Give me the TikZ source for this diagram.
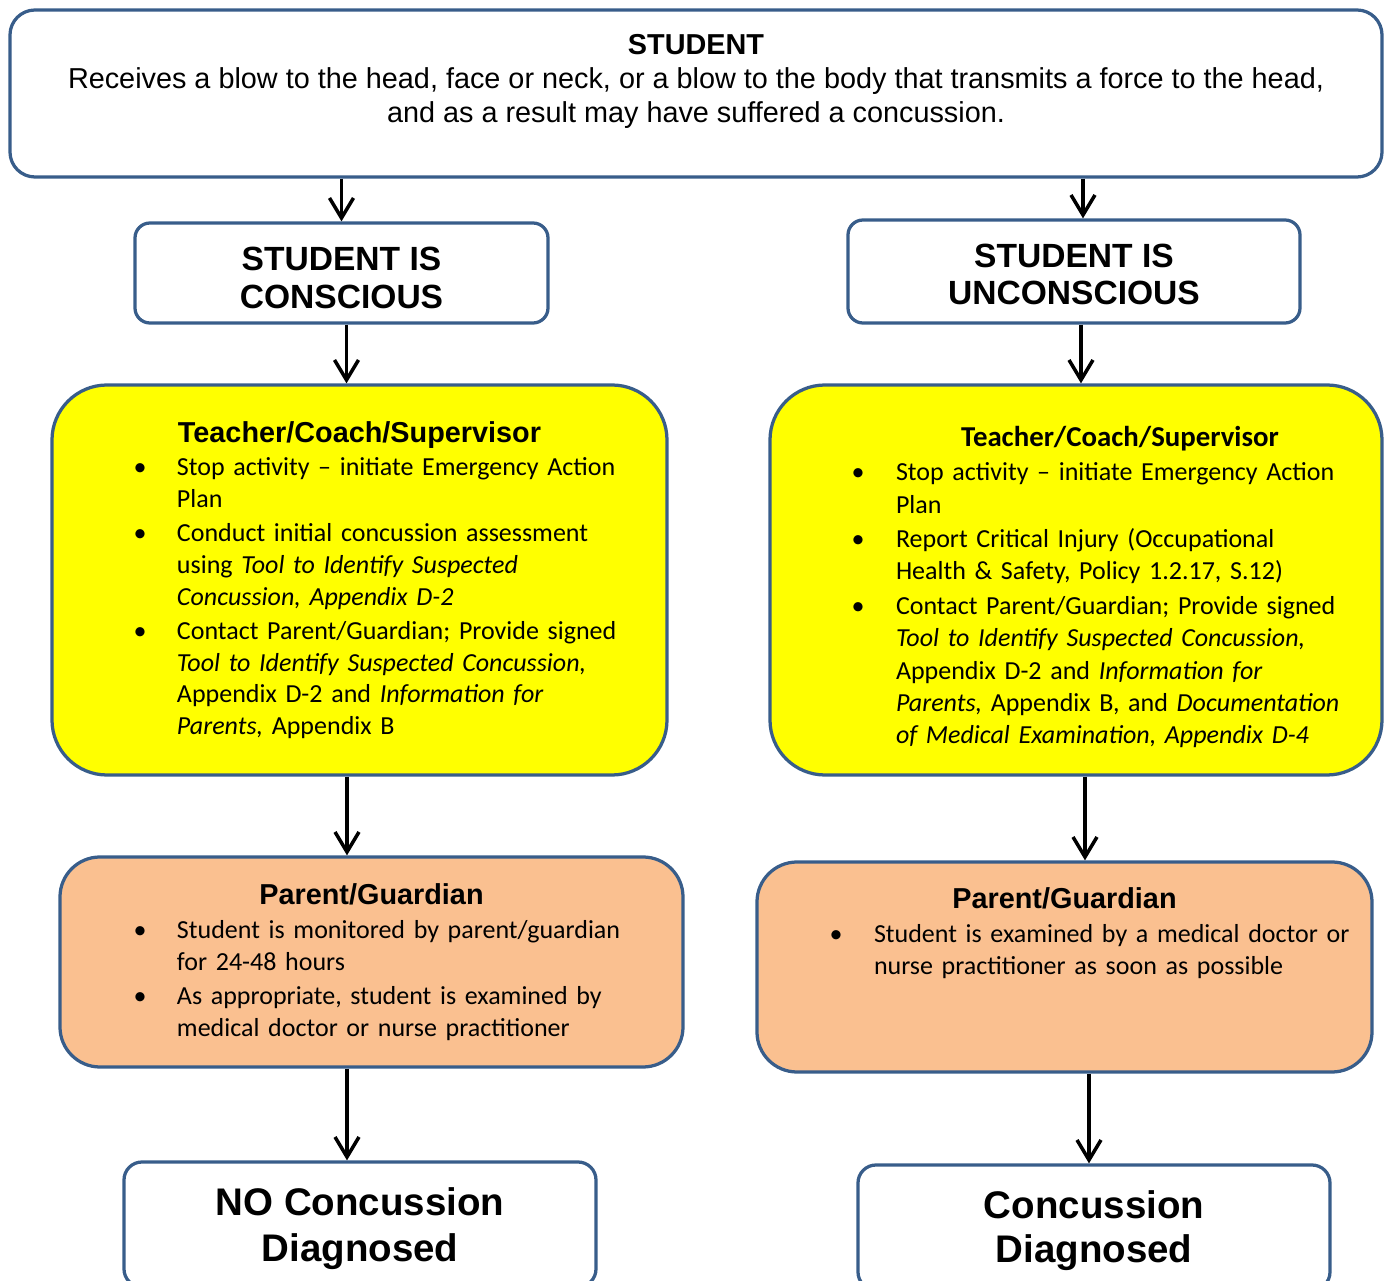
\documentclass[tikz,border=0pt]{standalone}
\usepackage{fontspec}
\setmainfont{Carlito}
\newfontfamily\arialfont{Liberation Sans}
\usepackage{enumitem}
\usetikzlibrary{arrows.meta}

\definecolor{boxline}{HTML}{385D8A}
\definecolor{boxyellow}{HTML}{FFFF00}
\definecolor{boxorange}{HTML}{FAC090}

\setlength\parindent{0pt}
\newcommand\headfont{\arialfont\bfseries\fontsize{16.4}{19.3}\selectfont}
\newcommand\bodyfont{\fontsize{14.8}{18.1}\selectfont}
\setlist[itemize]{label=\makebox[0pt]{\textbullet}, labelwidth=0pt, itemsep=1.2pt, parsep=0pt, topsep=1.2pt, partopsep=0pt}

\begin{document}
\begin{tikzpicture}[x=0.2mm, y=-0.2mm, line width=0.65mm,
        box/.style={draw=boxline, fill=white, rounded corners=#1, inner sep=4mm, text=black},
        box/.default=4mm,
        arr/.style={-{Straight Barb[length=4mm,width=4.8mm]}, draw=black, line width=0.7mm}]

    \useasboundingbox (0,0) rectangle (1388,1281);

    \node [box=5mm, minimum width=274.4mm, minimum height=33.4mm, align=center, text depth=6mm,
        font=\arialfont\fontsize{16.4}{19.3}\selectfont] (student) at (696,93.5)
        {\textbf{STUDENT}\\Receives a blow to the head, face or neck, or a blow to the body that transmits a force to the head,\\and as a result may have suffered a concussion.};

    \node [box=3mm, inner ysep=2mm, minimum width=82.6mm, minimum height=20mm, align=center, text height=14.2mm, text depth=0pt,
        font=\arialfont\bfseries\fontsize{19.1}{21.5}\selectfont] (conscious) at (341.5,273) {STUDENT IS\\CONSCIOUS};
    \node [box=3mm, inner ysep=2mm, minimum width=90.4mm, minimum height=20.6mm, align=center, text height=13.4mm, text depth=0pt,
        font=\arialfont\bfseries\fontsize{19.1}{21.5}\selectfont] (unconscious) at (1074,271.5) {STUDENT IS\\UNCONSCIOUS};

    \node [box=11mm, fill=boxyellow, minimum width=123mm, minimum height=78mm, text width=115mm, align=left,
        font=\bodyfont] (teacherA) at (359.5,580)
        {{\centering\headfont Teacher/Coach/Supervisor\par}
        \begin{itemize}[leftmargin=21mm, labelsep=7.4mm]
            \item Stop activity -- initiate Emergency Action\newline Plan
            \item Conduct initial concussion assessment\newline using \textit{Tool to Identify Suspected}\newline \textit{Concussion, Appendix D-2}
            \item Contact Parent/Guardian; Provide signed\newline \textit{Tool to Identify Suspected Concussion,}\newline Appendix D-2 and \textit{Information for}\newline \textit{Parents,} Appendix B
        \end{itemize}};
    \node [box=11mm, fill=boxyellow, minimum width=122.4mm, minimum height=78mm, text width=114.4mm, align=left,
        font=\fontsize{14.8}{18.4}\selectfont] (teacherB) at (1076,580)
        {{\centering\hspace*{17.6mm}\bfseries\fontsize{16.4}{19.3}\selectfont\rule{0pt}{19.3pt}Teacher/Coach/Supervisor\par}
        \begin{itemize}[leftmargin=21.2mm, labelsep=7.6mm, topsep=1.4pt]
            \item Stop activity -- initiate Emergency Action\newline Plan
            \item Report Critical Injury (Occupational\newline Health \& Safety, Policy 1.2.17, S.12)
            \item Contact Parent/Guardian; Provide signed\newline \textit{Tool to Identify Suspected Concussion,}\newline Appendix D-2 and \textit{Information for}\newline \textit{Parents,} Appendix B, and \textit{Documentation}\newline \textit{of Medical Examination, Appendix D-4}
        \end{itemize}};

    \node [box=8mm, fill=boxorange, minimum width=124.6mm, minimum height=42mm, text width=116.6mm, align=left,
        font=\bodyfont] (parentA) at (371.5,962)
        {{\centering\headfont Parent/Guardian\par}
        \begin{itemize}[leftmargin=19.4mm, labelsep=7.4mm]
            \item Student is monitored by parent/guardian\newline for 24-48 hours
            \item As appropriate, student is examined by\newline medical doctor or nurse practitioner
        \end{itemize}};
    \node [box=8mm, fill=boxorange, inner xsep=2mm, minimum width=123mm, minimum height=42mm, text width=119mm, align=left,
        font=\bodyfont] (parentB) at (1064.5,967)
        {{\centering\headfont Parent/Guardian\par}
        \begin{itemize}[leftmargin=21.4mm, labelsep=7.6mm]
            \item Student is examined by a medical doctor or\newline nurse practitioner as soon as possible
        \end{itemize}\vspace*{13mm}};

    \node [box=3.6mm, minimum width=94.4mm, minimum height=25mm, align=center, text depth=0mm,
        font=\arialfont\bfseries\fontsize{21.9}{26.6}\selectfont] (noconc) at (360,1224.5) {NO Concussion\\Diagnosed};
    \node [box=3.6mm, minimum width=94.4mm, minimum height=25mm, align=center, text depth=0.2mm,
        font=\arialfont\bfseries\fontsize{21.9}{25}\selectfont] (conc) at (1094,1227.5) {Concussion\\Diagnosed};

    \draw [arr] (student.south -| conscious.north) -- (conscious.north);
    \draw [arr] ([xshift=1.8mm]unconscious.north |- student.south) -- ([xshift=1.8mm]unconscious.north);
    \draw [arr] ([xshift=1mm]conscious.south) -- ([xshift=1mm]conscious.south |- teacherA.north);
    \draw [arr] ([xshift=1.4mm]unconscious.south) -- ([xshift=1.4mm]unconscious.south |- teacherB.north);
    \draw [arr] ([xshift=-2.5mm]teacherA.south) -- ([xshift=-2.5mm]teacherA.south |- parentA.north);
    \draw [arr] ([xshift=1.8mm]teacherB.south) -- ([xshift=1.8mm]teacherB.south |- parentB.north);
    \draw [arr] ([xshift=-4.9mm]parentA.south) -- ([xshift=-4.9mm]parentA.south |- noconc.north);
    \draw [arr] ([xshift=4.9mm]parentB.south) -- ([xshift=4.9mm]parentB.south |- conc.north);

\end{tikzpicture}
\end{document}
